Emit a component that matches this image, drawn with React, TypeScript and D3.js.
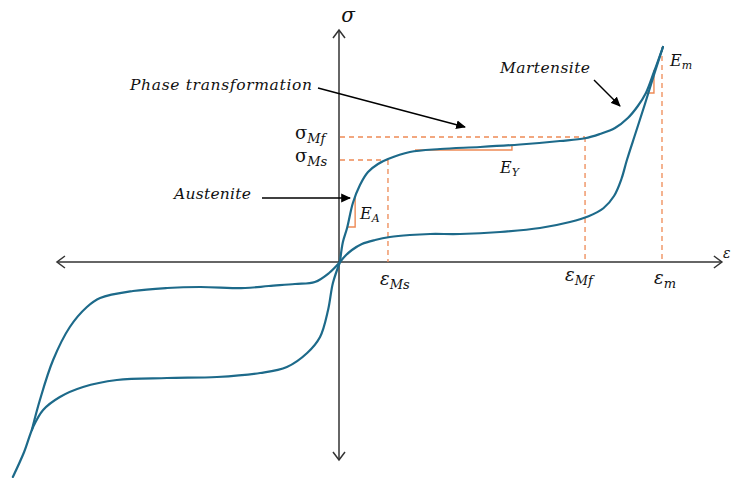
import React from "react";
import * as d3 from "d3";

// Stress–strain loop of a shape-memory alloy (normalised units).
// Loading branch (austenite → phase transformation → martensite)
const loading: [number, number][] = [
  [0, 0], [0.009, 0.16], [0.022, 0.272], [0.04, 0.472], [0.062, 0.616],
  [0.087, 0.72], [0.118, 0.784], [0.149, 0.824], [0.217, 0.88], [0.311, 0.904],
  [0.435, 0.92], [0.559, 0.94], [0.683, 0.968], [0.761, 0.99], [0.807, 1.024],
  [0.854, 1.072], [0.894, 1.152], [0.925, 1.248], [0.95, 1.352], [0.975, 1.52],
  [1.003, 1.72],
];
// Unloading branch back to the origin
const unloading: [number, number][] = [
  [1.003, 1.72], [0.975, 1.496], [0.947, 1.264], [0.919, 1.04], [0.891, 0.816],
  [0.874, 0.664], [0.851, 0.528], [0.818, 0.43], [0.772, 0.366], [0.714, 0.32],
  [0.621, 0.272], [0.497, 0.24], [0.373, 0.224], [0.28, 0.224], [0.217, 0.216],
  [0.155, 0.2], [0.109, 0.176], [0.068, 0.144], [0.037, 0.096], [0.016, 0.048],
  [0, 0],
];
// Compressive loading branch
const compLoading: [number, number][] = [
  [0, 0], [-0.022, -0.168], [-0.037, -0.384], [-0.062, -0.6], [-0.102, -0.728],
  [-0.165, -0.84], [-0.248, -0.888], [-0.382, -0.92], [-0.537, -0.928],
  [-0.693, -0.944], [-0.798, -1.0], [-0.87, -1.08], [-0.922, -1.184],
  [-0.953, -1.32], [-0.981, -1.52], [-1.016, -1.72],
];
// Compressive unloading branch
const compUnloading: [number, number][] = [
  [-0.957, -1.344], [-0.932, -1.104], [-0.891, -0.784], [-0.839, -0.52],
  [-0.786, -0.36], [-0.745, -0.288], [-0.643, -0.232], [-0.537, -0.208],
  [-0.435, -0.2], [-0.295, -0.208], [-0.221, -0.192], [-0.14, -0.176],
  [-0.078, -0.16], [-0.034, -0.088], [0, 0],
];

// Characteristic points
const epsMs = 0.149;
const epsMf = 0.761;
const epsM = 1.0;
const sigMs = 0.816;
const sigMf = 1.0;
const sigM = 1.72;

// Axis extents
const xExtent: [number, number] = [-0.879, 1.186];
const yExtent: [number, number] = [-1.584, 1.856];

const W = 733;
const H = 478;

const x = d3.scaleLinear().domain([0, 1]).range([340, 662]);
const y = d3.scaleLinear().domain([0, 1]).range([262, 137]);

const line = d3
  .line<[number, number]>()
  .x((d) => x(d[0]))
  .y((d) => y(d[1]))
  .curve(d3.curveCatmullRom.alpha(0.5));

const CURVE = "#1d6a8a";
const ORANGE = "#ee8a55";
const AXIS = "#333";
const FONT = "'DejaVu Serif', serif";

function Chevron({ x0, y0, dir }: { x0: number; y0: number; dir: "l" | "r" | "u" | "d" }) {
  const s = 8;
  let p = "";
  if (dir === "r") p = `M${x0 - s},${y0 - s * 0.75}L${x0},${y0}L${x0 - s},${y0 + s * 0.75}`;
  if (dir === "l") p = `M${x0 + s},${y0 - s * 0.75}L${x0},${y0}L${x0 + s},${y0 + s * 0.75}`;
  if (dir === "u") p = `M${x0 - s * 0.75},${y0 + s}L${x0},${y0}L${x0 + s * 0.75},${y0 + s}`;
  if (dir === "d") p = `M${x0 - s * 0.75},${y0 - s}L${x0},${y0}L${x0 + s * 0.75},${y0 - s}`;
  return <path d={p} fill="none" stroke={AXIS} strokeWidth={1.5} />;
}

function Arrow({ x1, y1, x2, y2 }: { x1: number; y1: number; x2: number; y2: number }) {
  return (
    <line x1={x1} y1={y1} x2={x2} y2={y2} stroke="#000" strokeWidth={1.4} markerEnd="url(#head)" />
  );
}

export default function App() {
  const x0 = x(0);
  const y0 = y(0);
  const dash = "5,4";
  return (
    <svg
      width={W}
      height={H}
      viewBox={`0 0 ${W} ${H}`}
      style={{ position: "absolute", left: 0, top: 0, background: "#fff" }}
    >
      <defs>
        <marker id="head" viewBox="0 0 10 10" refX="9" refY="5" markerWidth="7" markerHeight="7" orient="auto">
          <path d="M0,0.5L10,5L0,9.5Z" fill="#000" />
        </marker>
      </defs>

      {/* axes */}
      <line x1={x(xExtent[0])} y1={y0} x2={x(xExtent[1])} y2={y0} stroke={AXIS} strokeWidth={1.5} />
      <line x1={x0 - 1} y1={y(yExtent[1])} x2={x0 - 1} y2={y(yExtent[0])} stroke={AXIS} strokeWidth={1.5} />
      <Chevron x0={x(xExtent[1])} y0={y0} dir="r" />
      <Chevron x0={x(xExtent[0])} y0={y0} dir="l" />
      <Chevron x0={x0 - 1} y0={y(yExtent[1])} dir="u" />
      <Chevron x0={x0 - 1} y0={y(yExtent[0])} dir="d" />

      {/* dashed reference lines */}
      <g stroke={ORANGE} strokeWidth={1.3} strokeDasharray={dash} fill="none">
        <line x1={x0} y1={y(sigMf)} x2={x(epsMf)} y2={y(sigMf)} />
        <line x1={x0} y1={y(sigMs)} x2={x(epsMs)} y2={y(sigMs)} />
        <line x1={x(epsMs)} y1={y(sigMs)} x2={x(epsMs)} y2={y0} />
        <line x1={x(epsMf)} y1={y(sigMf)} x2={x(epsMf)} y2={y0} />
        <line x1={x(epsM)} y1={y(sigM)} x2={x(epsM)} y2={y0} />
      </g>

      {/* slope triangles */}
      <g stroke={ORANGE} strokeWidth={1.4} fill="none">
        <path d={`M${x(0.022)},${y(0.28)}H${x(0.047)}V${y(0.52)}`} />
        <path d={`M${x(0.233)},${y(0.896)}H${x(0.534)}V${y(0.936)}`} />
        <path d={`M${x(0.95)},${y(1.352)}H${x(0.975)}V${y(1.536)}`} />
      </g>

      {/* hysteresis curves */}
      <g fill="none" stroke={CURVE} strokeWidth={2.2} strokeLinecap="round">
        <path d={line(loading) ?? ""} />
        <path d={line(unloading) ?? ""} />
        <path d={line(compLoading) ?? ""} />
        <path d={line(compUnloading) ?? ""} />
      </g>

      {/* annotation arrows */}
      <Arrow x1={318} y1={88} x2={465} y2={127} />
      <Arrow x1={594} y1={80} x2={620} y2={106} />
      <Arrow x1={262} y1={198} x2={350} y2={198} />

      {/* texts */}
      <g fontFamily={FONT} fill="#111">
        <text x={x0 + 8} y={22} fontSize={20} fontStyle="italic" textAnchor="middle">σ</text>
        <text x={723} y={258} fontSize={14} fontStyle="italic">ε</text>

        <text x={130} y={90} fontSize={15.5} fontStyle="italic" textLength={182} lengthAdjust="spacing">Phase transformation</text>
        <text x={500} y={73} fontSize={15.5} fontStyle="italic" textLength={90} lengthAdjust="spacing">Martensite</text>
        <text x={174} y={199} fontSize={15.5} fontStyle="italic" textLength={77} lengthAdjust="spacing">Austenite</text>

        <text x={295} y={139} fontSize={18}>
          σ<tspan fontSize={13} fontStyle="italic" dy={4}>Mf</tspan>
        </text>
        <text x={295} y={162} fontSize={18}>
          σ<tspan fontSize={13} fontStyle="italic" dy={4}>Ms</tspan>
        </text>

        <text x={x(epsMs) - 8} y={285} fontSize={18} fontStyle="italic">
          ε<tspan fontSize={13} dy={4}>Ms</tspan>
        </text>
        <text x={x(epsMf) - 20} y={281} fontSize={18} fontStyle="italic">
          ε<tspan fontSize={13} dy={4}>Mf</tspan>
        </text>
        <text x={x(epsM) - 8} y={284} fontSize={18} fontStyle="italic">
          ε<tspan fontSize={13} dy={4}>m</tspan>
        </text>

        <text x={360} y={219} fontSize={16} fontStyle="italic">
          E<tspan fontSize={11} dy={3}>A</tspan>
        </text>
        <text x={500} y={173} fontSize={16} fontStyle="italic">
          E<tspan fontSize={11} dy={3}>Y</tspan>
        </text>
        <text x={670} y={66} fontSize={16} fontStyle="italic">
          E<tspan fontSize={11} dy={3}>m</tspan>
        </text>
      </g>
    </svg>
  );
}
